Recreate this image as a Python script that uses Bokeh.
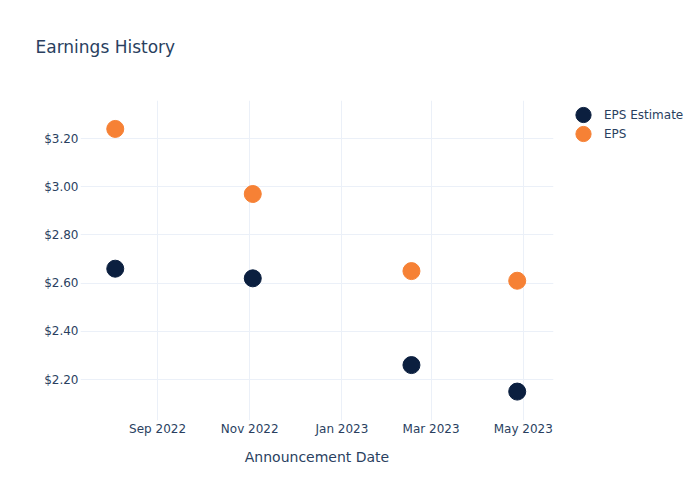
import pandas as pd
from bokeh.plotting import figure
from bokeh.models import (ColumnDataSource, NumeralTickFormatter, DatetimeTickFormatter,
                          FixedTicker, Range1d, Legend, LegendItem, Title)
from bokeh.embed import file_html
from bokeh.resources import INLINE

dates = ["2022-08-04", "2022-11-03", "2023-02-16", "2023-04-27"]
eps_estimate = [2.66, 2.62, 2.26, 2.15]
eps_actual = [3.24, 2.97, 2.65, 2.61]
tick_dates = ["2022-09-01", "2022-11-01", "2023-01-01", "2023-03-01", "2023-05-01"]
y_ticks = [2.2, 2.4, 2.6, 2.8, 3.0, 3.2]

FONT = "DejaVu Sans"
TXT = "#2a3f5f"
GRID = "#ebf0f8"

src = ColumnDataSource(dict(date=pd.to_datetime(dates), est=eps_estimate, eps=eps_actual))

p = figure(width=700, height=500, output_backend="svg", toolbar_location=None,
           x_axis_type="datetime",
           x_range=Range1d(pd.Timestamp("2022-07-12"), pd.Timestamp("2023-05-21")),
           y_range=Range1d(2.03, 3.358),
           min_border_left=80, min_border_right=147, min_border_top=100, min_border_bottom=80)
p.frame_width = 473
p.frame_height = 320
p.outline_line_color = None
p.background_fill_color = "white"
p.border_fill_color = "white"

# a blank second line lifts the (vertically centred) title towards the top
p.title = Title(text="Earnings History\n ", text_font=FONT, text_font_size="17px",
                text_color=TXT, text_font_style="normal", align="left", offset=-45,
                standoff=47)

# circles as screen-sized ellipses so the legend swatches are drawn large too
r1 = p.ellipse("date", "est", source=src, width=17, height=17,
               width_units="screen", height_units="screen",
               fill_color="#0b1f3f", line_color="#0b1f3f")
r2 = p.ellipse("date", "eps", source=src, width=17, height=17,
               width_units="screen", height_units="screen",
               fill_color="#f68135", line_color="#f68135")

p.xaxis.ticker = FixedTicker(ticks=[pd.Timestamp(d).value / 1e6 for d in tick_dates])
p.xaxis.formatter = DatetimeTickFormatter(months="%b %Y", days="%b %Y", years="%b %Y")
p.yaxis.ticker = FixedTicker(ticks=y_ticks)
p.yaxis.formatter = NumeralTickFormatter(format="$0.00")

for ax in (p.xaxis[0], p.yaxis[0]):
    ax.axis_line_color = None
    ax.major_tick_line_color = None
    ax.minor_tick_line_color = None
    ax.major_tick_out = 0
    ax.major_tick_in = 0
    ax.minor_tick_out = 0
    ax.minor_tick_in = 0
    ax.major_label_text_font = FONT
    ax.major_label_text_font_size = "12px"
    ax.major_label_text_color = TXT
p.xaxis.major_label_standoff = 1
p.yaxis.major_label_standoff = 2
p.xaxis.axis_label = "Announcement Date"
p.xaxis.axis_label_text_font = FONT
p.xaxis.axis_label_text_font_size = "14px"
p.xaxis.axis_label_text_font_style = "normal"
p.xaxis.axis_label_text_color = TXT
p.xaxis.axis_label_standoff = 10

p.xgrid.grid_line_color = GRID
p.ygrid.grid_line_color = GRID

legend = Legend(items=[LegendItem(label="EPS Estimate", renderers=[r1]),
                       LegendItem(label="EPS", renderers=[r2])],
                location=(20, 277), margin=0, padding=0, spacing=0,
                glyph_width=20, glyph_height=19, label_standoff=11,
                label_text_font=FONT, label_text_font_size="12px", label_text_color=TXT,
                border_line_color=None, background_fill_alpha=0)
p.add_layout(legend, "right")

open("out.html", "w").write(file_html(p, INLINE))
